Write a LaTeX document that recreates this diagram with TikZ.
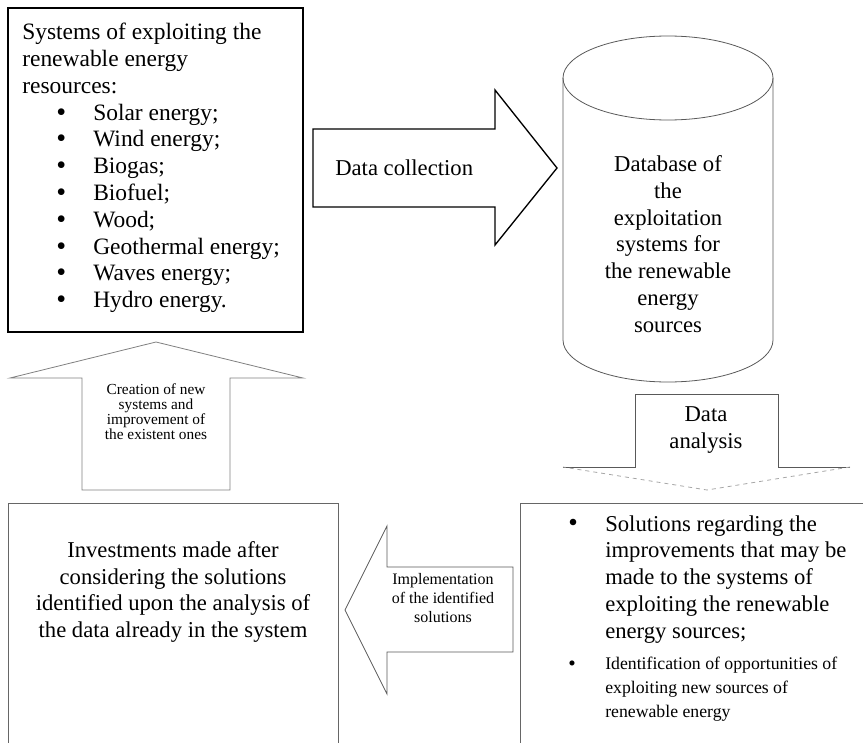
\documentclass[tikz,border=0pt]{standalone}
\usepackage{fontspec}
\setmainfont{Liberation Serif}
\usetikzlibrary{fit}
\def\txtL{\fontsize{17}{20.1}\selectfont}
\def\txtLL{\fontsize{17.6}{20.1}\selectfont}
\def\txtM{\fontsize{13.3}{18}\selectfont}
\def\txtS{\fontsize{12}{13.9}\selectfont}
\def\txtXS{\fontsize{11.5}{11.25}\selectfont}
\def\blt{\makebox[27.75pt][l]{\smash{\raisebox{-0.04em}{\scalebox{1.2}{\textbullet}}}}}
\def\ind{\hspace*{27.75pt}}

\begin{document}
\begin{tikzpicture}[x=0.75pt,y=0.75pt,yscale=-1,xscale=1,
		box/.style={draw=black!60, line width=0.6pt, inner sep=0pt},
		blockarrow/.style={draw=black!65, line width=0.6pt, line join=miter},
		lbl/.style={inner sep=0pt, align=center}]
		\useasboundingbox (0,0) rectangle (863,742);
		% top left: the systems
		\node [box, draw=black, line width=1pt, fit={(8,8) (303,332)}] (sys) {};
		\node [lbl, anchor=north west, align=left, font=\txtLL] (systxt) at (22,23) {Systems of exploiting the\\renewable energy\\resources:\\
			\hspace*{25.5pt}\blt Solar energy;\\
			\hspace*{25.5pt}\blt Wind energy;\\
			\hspace*{25.5pt}\blt Biogas;\\
			\hspace*{25.5pt}\blt Biofuel;\\
			\hspace*{25.5pt}\blt Wood;\\
			\hspace*{25.5pt}\blt Geothermal energy;\\
			\hspace*{25.5pt}\blt Waves energy;\\
			\hspace*{25.5pt}\blt Hydro energy.};
		% data collection
		\draw [blockarrow, draw=black, line width=1pt] (313,129) -- (495,129) -- (495,90) -- (557,168) -- (495,245) -- (495,207) -- (313,207) -- cycle ;
		\node [lbl, anchor=west, font=\txtL] (collect) at (335,168) {Data collection};
		% database cylinder
		\draw [blockarrow] (563,78) -- (563,340) arc [start angle=180, end angle=0, x radius=105, y radius=42] -- (773,78) ;
		\draw [blockarrow] (668,78) ellipse [x radius=105, y radius=42] ;
		\node [lbl, font=\txtL] (db) at (668,244) {Database of\\the\\exploitation\\systems for\\the renewable\\energy\\sources};
		% data analysis
		\draw [blockarrow] (563,467) -- (635,467) -- (635,394) -- (778,394) -- (778,467) -- (850,467) ;
		\draw [blockarrow, draw=black!35, dashed] (850,467) -- (707,490) -- (563,467) ;
		\node [lbl, font=\txtL] (analysis) at (706,430) {Data\\analysis};
		% bottom right: solutions
		\node [box, fit={(520,503) (880,760)}] (sol) {};
		\node [lbl, anchor=north west, align=left, font=\txtL] (soltxt) at (568,515) {\blt Solutions regarding the\\
			\ind improvements that may be\\
			\ind made to the systems of\\
			\ind exploiting the renewable\\
			\ind energy sources;};
		\node [lbl, anchor=north west, align=left, font=\txtM] (opptxt) at (568,657) {\blt Identification of opportunities of\\
			\ind exploiting new sources of\\
			\ind renewable energy};
		% implementation
		\draw [blockarrow] (345,610) -- (387,526) -- (387,567) -- (513,567) -- (513,652) -- (387,652) -- (387,694) -- cycle ;
		\node [lbl, font=\txtS] (impl) at (443,598) {Implementation\\of the identified\\solutions};
		% bottom left: investments
		\node [box, fit={(8,503) (338,760)}] (invest) {};
		\node [lbl, font=\txtL] (investtxt) at (173,592) {Investments made after\\considering the solutions\\identified upon the analysis of\\the data already in the system};
		% creation
		\draw [blockarrow, draw=black!50] (156,342) -- (303,378) -- (230,378) -- (230,490) -- (82,490) -- (82,378) -- (10,378) -- cycle ;
		\node [lbl, font=\txtXS] (create) at (156,412) {Creation of new\\systems and\\improvement of\\the existent ones};
\end{tikzpicture}
\end{document}
